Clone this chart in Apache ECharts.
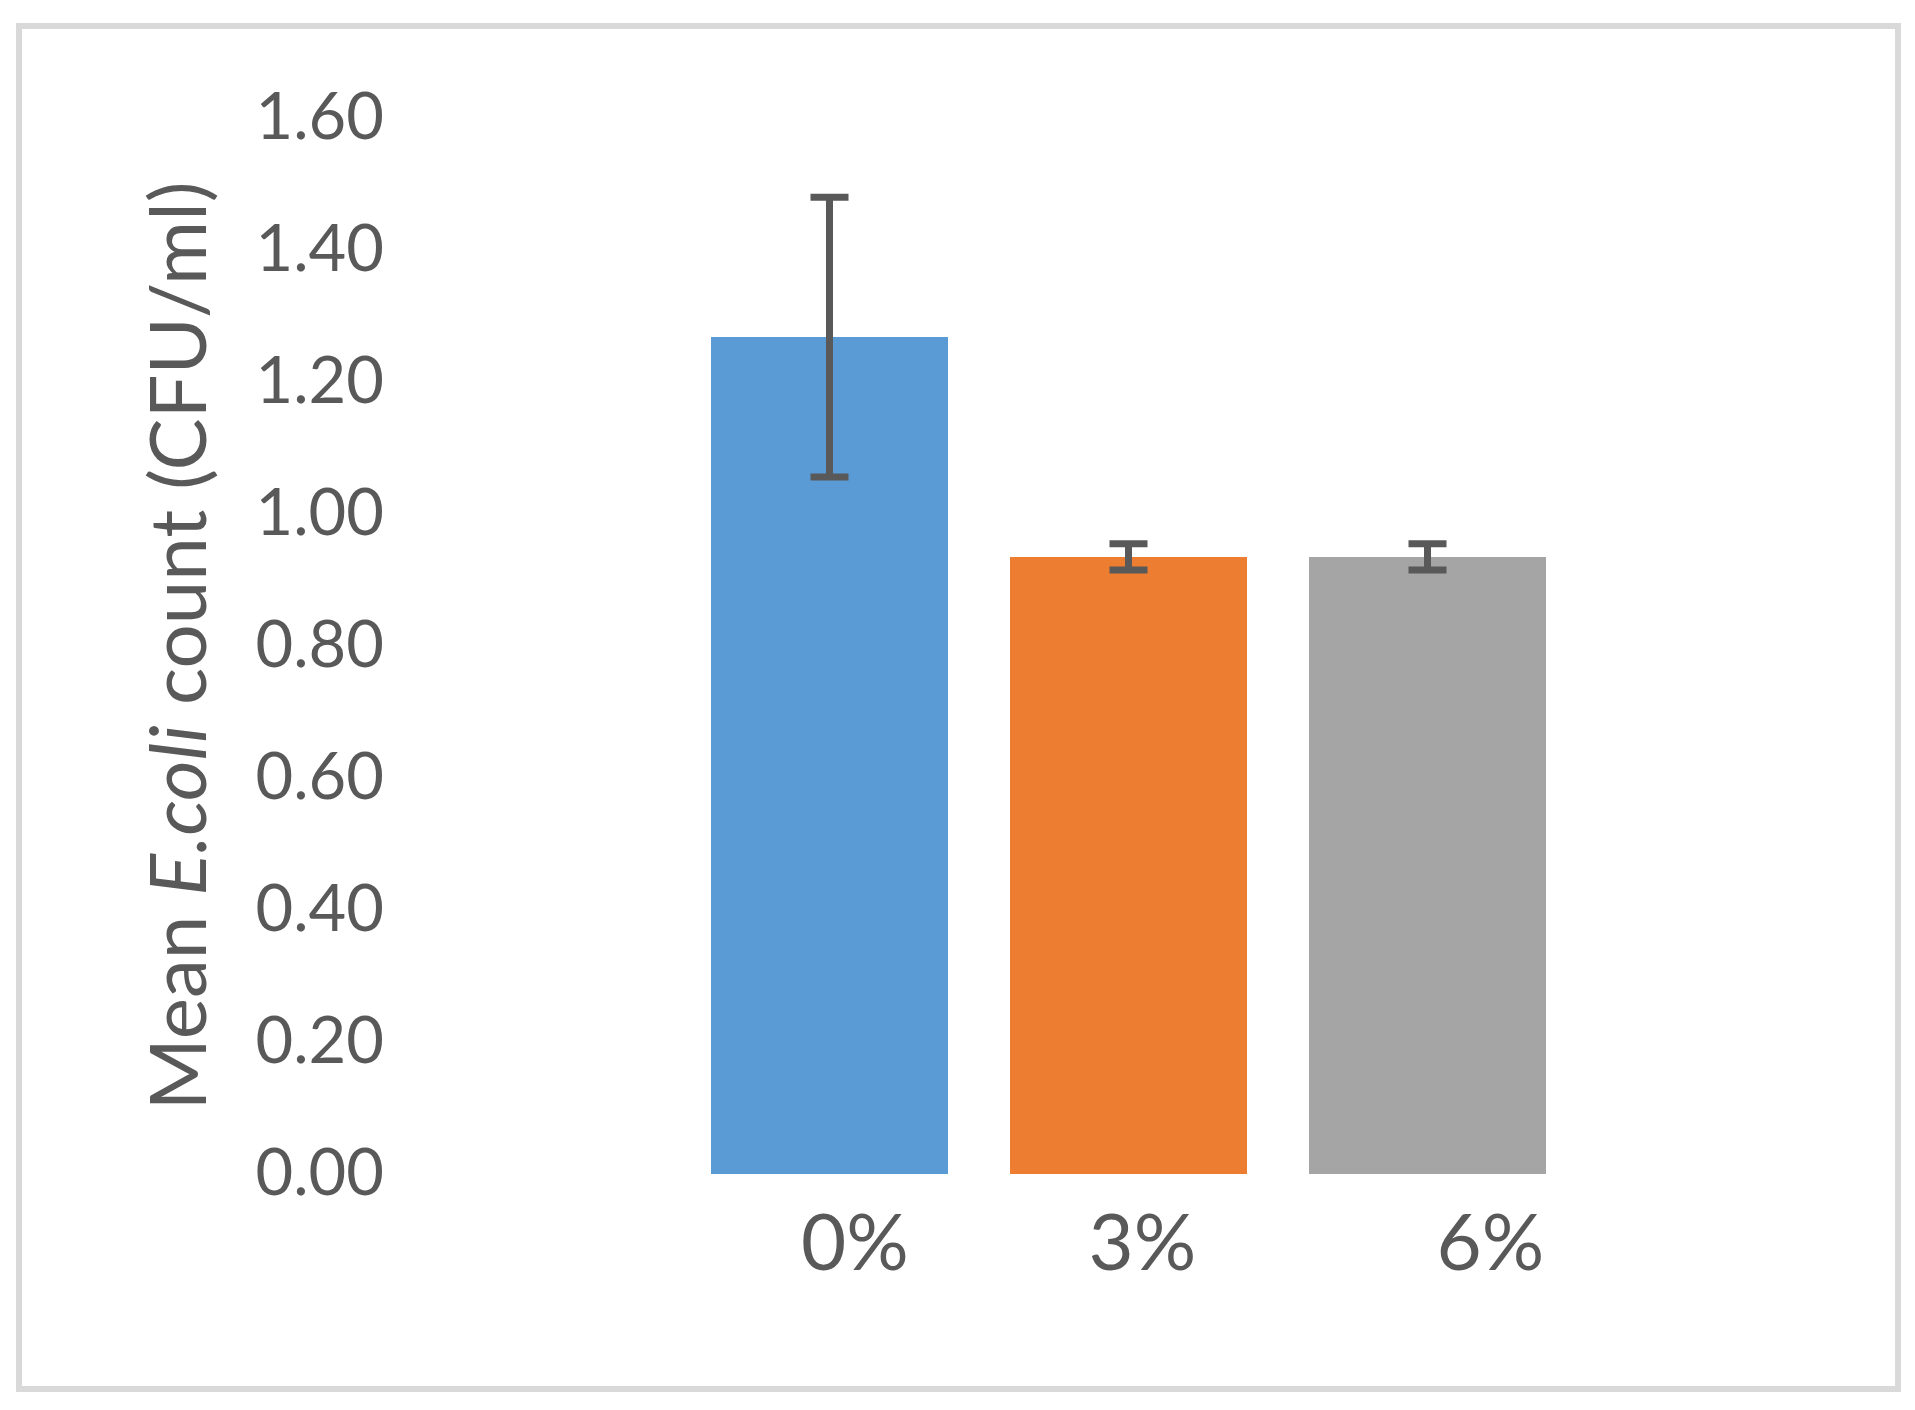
<!DOCTYPE html>
<html>
<head>
<meta charset="utf-8">
<script src="https://cdn.jsdelivr.net/npm/echarts@6/dist/echarts.min.js"></script>
<style>
html,body{margin:0;padding:0;background:#fff;}
#chart{width:1915px;height:1410px;}
</style>
</head>
<body>
<div id="chart"></div>
<script>
// ---- data ----
const categories = ['0%', '3%', '6%'];
const meanValues = [1.268, 0.935, 0.935];
const errorValues = [0.212, 0.02, 0.02];
const barColors = ['#5B9BD5', '#ED7D31', '#A5A5A5'];
const yTicks = [0, 0.2, 0.4, 0.6, 0.8, 1.0, 1.2, 1.4, 1.6];

// ---- layout/style ----
const FONT = 'Lato, "Open Sans", "Noto Sans", sans-serif';
const TEXT = '#595959';
const labelShift = [51, 28, 126]; // left padding per category label (visual offset)

const chart = echarts.init(document.getElementById('chart'), null, {renderer: 'canvas'});

const richLabels = {};
categories.forEach((c, i) => {
  richLabels['c' + i] = {
    fontFamily: FONT, fontSize: 78, color: TEXT,
    padding: [0, 0, 0, labelShift[i]]
  };
});

const option = {
  backgroundColor: '#fff',
  animation: false,
  graphic: [{
    type: 'rect',
    shape: {x: 19, y: 26, width: 1879, height: 1363},
    style: {fill: 'none', stroke: '#D9D9D9', lineWidth: 6},
    silent: true
  }],
  grid: {left: 680, right: 338, top: 118, bottom: 236, containLabel: false},
  xAxis: {
    type: 'category',
    data: categories,
    axisLine: {show: false},
    axisTick: {show: false},
    axisLabel: {
      margin: 32,
      formatter: function (v) {
        const i = categories.indexOf(v);
        return '{c' + i + '|' + v + '}';
      },
      rich: richLabels
    }
  },
  yAxis: {
    type: 'value',
    min: yTicks[0],
    max: yTicks[yTicks.length - 1],
    interval: 0.2,
    splitLine: {show: false},
    axisLine: {show: false},
    axisTick: {show: false},
    axisLabel: {
      margin: 296,
      fontFamily: FONT, fontSize: 65, color: TEXT,
      formatter: v => v.toFixed(2)
    },
    name: 'Mean {i|E.coli} count (CFU/ml)',
    nameLocation: 'middle',
    nameGap: 460,
    nameRotate: 90,
    nameTextStyle: {
      fontFamily: FONT, fontSize: 78, color: TEXT,
      rich: {
        i: {fontFamily: FONT, fontSize: 78, color: TEXT, fontStyle: 'italic'}
      }
    }
  },
  series: [
    {
      type: 'bar',
      barWidth: 237,
      data: meanValues.map((v, i) => ({value: v, itemStyle: {color: barColors[i]}})),
      silent: true
    },
    {
      type: 'custom',
      silent: true,
      data: meanValues.map((v, i) => [i, v - errorValues[i], v + errorValues[i]]),
      renderItem: function (params, api) {
        const x = api.value(0);
        const lo = api.coord([x, api.value(1)]);
        const hi = api.coord([x, api.value(2)]);
        const half = 19;
        const style = {stroke: '#595959', lineWidth: 7, fill: 'none'};
        return {
          type: 'group',
          children: [
            {type: 'line', shape: {x1: lo[0], y1: lo[1], x2: hi[0], y2: hi[1]}, style: style},
            {type: 'line', shape: {x1: hi[0] - half, y1: hi[1], x2: hi[0] + half, y2: hi[1]}, style: style},
            {type: 'line', shape: {x1: lo[0] - half, y1: lo[1], x2: lo[0] + half, y2: lo[1]}, style: style}
          ]
        };
      },
      z: 10
    }
  ]
};
chart.setOption(option);
</script>
</body>
</html>
